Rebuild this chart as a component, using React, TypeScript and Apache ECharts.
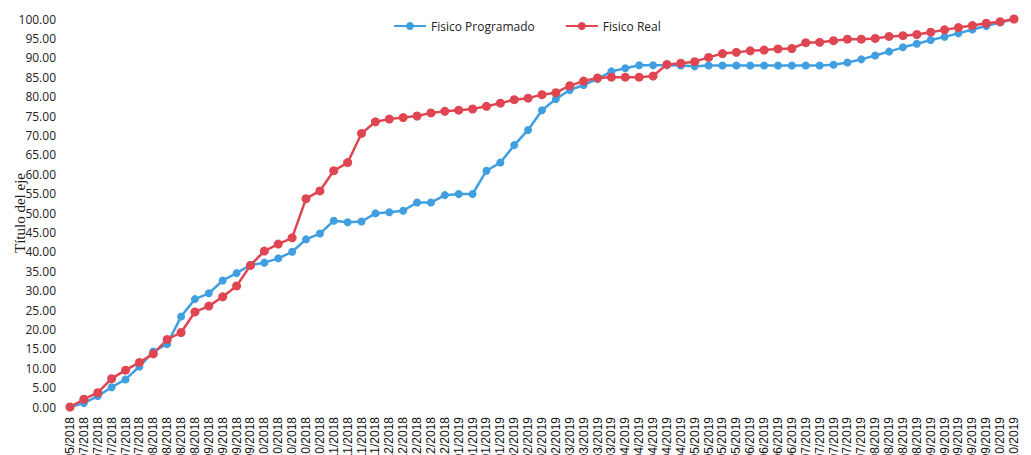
import React, { useEffect, useRef } from "react";
import * as echarts from "echarts";

const fechas: string[] = [
  "31/05/2018", "02/07/2018", "09/07/2018", "16/07/2018", "23/07/2018", "30/07/2018",
  "06/08/2018", "13/08/2018", "20/08/2018", "27/08/2018", "03/09/2018", "10/09/2018",
  "17/09/2018", "24/09/2018", "01/10/2018", "08/10/2018", "15/10/2018", "22/10/2018",
  "29/10/2018", "05/11/2018", "12/11/2018", "19/11/2018", "26/11/2018", "03/12/2018",
  "10/12/2018", "17/12/2018", "24/12/2018", "31/12/2018", "07/01/2019", "14/01/2019",
  "21/01/2019", "28/01/2019", "04/02/2019", "11/02/2019", "18/02/2019", "25/02/2019",
  "04/03/2019", "11/03/2019", "18/03/2019", "25/03/2019", "01/04/2019", "08/04/2019",
  "15/04/2019", "22/04/2019", "29/04/2019", "06/05/2019", "13/05/2019", "20/05/2019",
  "27/05/2019", "03/06/2019", "10/06/2019", "17/06/2019", "24/06/2019", "01/07/2019",
  "08/07/2019", "15/07/2019", "22/07/2019", "29/07/2019", "05/08/2019", "12/08/2019",
  "19/08/2019", "26/08/2019", "02/09/2019", "09/09/2019", "16/09/2019", "23/09/2019",
  "30/09/2019", "07/10/2019", "14/10/2019",
];

const fisicoProgramado: number[] = [
  0, 1.0, 2.8, 5.1, 7.1, 10.4, 14.3, 16.2, 23.3, 27.8,
  29.3, 32.6, 34.5, 36.6, 37.2, 38.3, 40.0, 43.2, 44.7, 48.0,
  47.6, 47.8, 49.9, 50.2, 50.6, 52.7, 52.7, 54.6, 54.9, 54.9,
  60.9, 63.0, 67.5, 71.4, 76.5, 79.4, 81.7, 83.0, 84.5, 86.5,
  87.3, 88.1, 88.1, 88.1, 88.0, 87.8, 88.0, 88.0, 88.0, 88.0,
  88.0, 88.0, 88.0, 88.0, 88.0, 88.2, 88.8, 89.6, 90.6, 91.6,
  92.7, 93.6, 94.6, 95.4, 96.3, 97.3, 98.2, 99.1, 100,
];

const fisicoReal: number[] = [
  0, 2.0, 3.7, 7.3, 9.5, 11.5, 13.7, 17.4, 19.2, 24.5,
  26.0, 28.4, 31.2, 36.5, 40.2, 42.0, 43.6, 53.7, 55.7, 60.9,
  63.0, 70.5, 73.5, 74.2, 74.6, 75.0, 75.8, 76.2, 76.5, 76.8,
  77.5, 78.3, 79.2, 79.6, 80.5, 81.0, 82.8, 84.0, 84.8, 85.0,
  85.0, 85.0, 85.3, 88.3, 88.6, 89.0, 90.1, 91.1, 91.4, 91.8,
  92.0, 92.3, 92.4, 93.9, 94.0, 94.4, 94.8, 94.8, 95.0, 95.5,
  95.7, 96.0, 96.6, 97.2, 97.8, 98.3, 98.9, 99.3, 100,
];

const BLUE = "#3f9fe0";
const RED = "#e04552";

export default function App() {
  const ref = useRef<HTMLDivElement>(null);

  useEffect(() => {
    if (!ref.current) return;
    const chart = echarts.init(ref.current, null, { renderer: "svg" });
    chart.setOption({
      animation: false,
      backgroundColor: "#ffffff",
      textStyle: { fontFamily: "'Open Sans', 'Noto Sans', sans-serif" },
      legend: {
        top: 15,
        left: 388,
        itemWidth: 32,
        itemHeight: 10,
        itemGap: 30,
        textStyle: { fontSize: 12, color: "#222" },
        data: ["Fisico Programado", "Fisico Real"],
      },
      grid: {
        left: 70,
        right: 17,
        top: 19,
        bottom: 48,
        containLabel: false,
        outerBoundsMode: "none",
      },
      xAxis: {
        type: "category",
        data: fechas,
        boundaryGap: false,
        axisLine: { show: false },
        axisTick: { show: false },
        axisLabel: {
          rotate: 90,
          interval: 0,
          fontSize: 12,
          margin: 10,
          color: "#111",
          fontFamily: "'Liberation Sans', sans-serif",
        },
        splitLine: { show: false },
      },
      yAxis: {
        type: "value",
        min: 0,
        max: 100,
        interval: 5,
        name: "Título del eje",
        nameLocation: "middle",
        nameRotate: 90,
        nameGap: 43,
        nameMoveOverlap: false,
        nameTextStyle: { fontSize: 15, color: "#222", fontFamily: "'Liberation Serif', serif" },
        axisLine: { show: false },
        axisTick: { show: false },
        splitLine: { show: false },
        axisLabel: {
          margin: 14,
          fontSize: 12,
          color: "#222",
          formatter: (v: number) => v.toFixed(2),
        },
      },
      series: [
        {
          name: "Fisico Programado",
          type: "line",
          data: fisicoProgramado,
          symbol: "circle",
          symbolSize: 8,
          showAllSymbol: true,
          lineStyle: { color: BLUE, width: 2.5 },
          itemStyle: { color: BLUE },
        },
        {
          name: "Fisico Real",
          type: "line",
          data: fisicoReal,
          symbol: "circle",
          symbolSize: 9,
          showAllSymbol: true,
          lineStyle: { color: RED, width: 2.5 },
          itemStyle: { color: RED },
        },
      ],
    });
    return () => chart.dispose();
  }, []);

  return (
    <div
      ref={ref}
      style={{ position: "fixed", left: 0, top: 0, width: 1031, height: 455 }}
    />
  );
}
